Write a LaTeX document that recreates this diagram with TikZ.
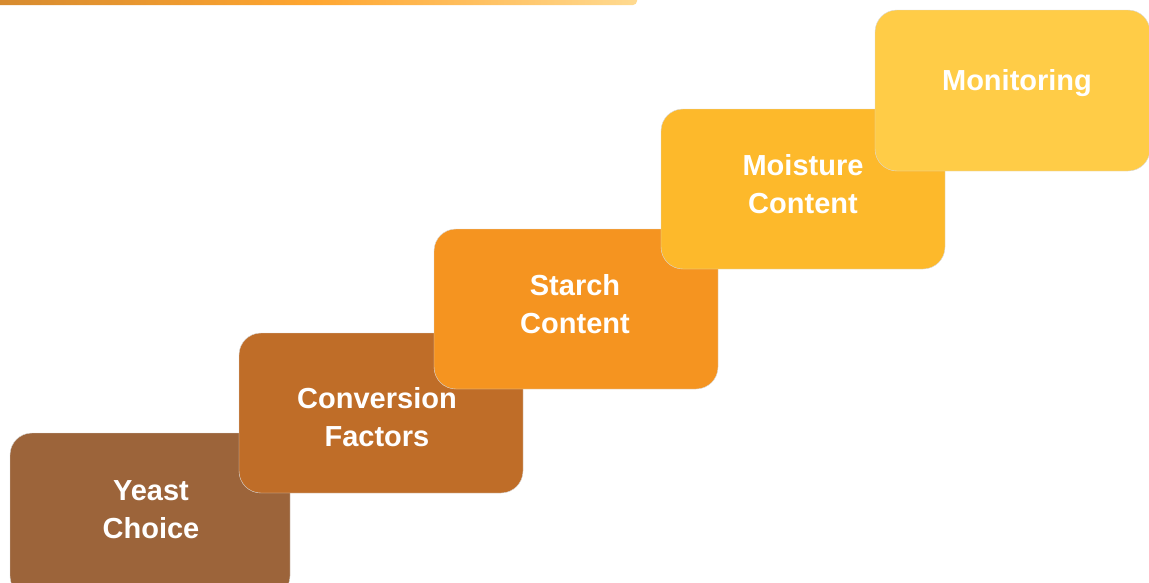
\documentclass[tikz,border=0pt]{standalone}
\usepackage{fontspec}
\setmainfont{Liberation Sans}
\usetikzlibrary{shadings}
\definecolor{cYeast}{HTML}{9C643A}
\definecolor{cConv}{HTML}{BF6D28}
\definecolor{cStarch}{HTML}{F59420}
\definecolor{cMoist}{HTML}{FDB92B}
\definecolor{cMon}{HTML}{FFCC47}
\definecolor{barL}{HTML}{D58A30}
\definecolor{barM}{HTML}{FFA630}
\definecolor{barR}{HTML}{FFDA90}
\tikzset{
  stepbox/.style={rounded corners=22pt, draw=white!85!black, line width=0.4pt},
  steplabel/.style={text=white, font=\fontsize{29}{38}\selectfont\bfseries, align=center}
}
\begin{document}
\begin{tikzpicture}[x=1pt,y=-1pt]
\useasboundingbox (0,0) rectangle (1149,582);
\clip (0,0) rectangle (1149,582);
\fill[white] (0,0) rectangle (1149,582);
% top gradient bar
\shade[left color=barL, right color=barR, middle color=barM, rounded corners=4pt] (-10,-10) rectangle (637,5);
% boxes
\fill[stepbox, fill=cYeast] (10,433) rectangle (290,598);
\node[steplabel] (yeast) at (151,510) {Yeast\\Choice};
\fill[stepbox, fill=cConv] (239,333) rectangle (523,493);
\node[steplabel] (conv) at (377,417) {Conversion\\Factors};
\fill[stepbox, fill=cStarch] (434,229) rectangle (718,389);
\node[steplabel] (starch) at (575,304) {Starch\\Content};
\fill[stepbox, fill=cMoist] (661,109) rectangle (945,269);
\node[steplabel] (moist) at (803,184) {Moisture\\Content};
\fill[stepbox, fill=cMon] (875,10) rectangle (1150,171);
\node[steplabel] (mon) at (1017,83) {Monitoring};
\end{tikzpicture}
\end{document}
